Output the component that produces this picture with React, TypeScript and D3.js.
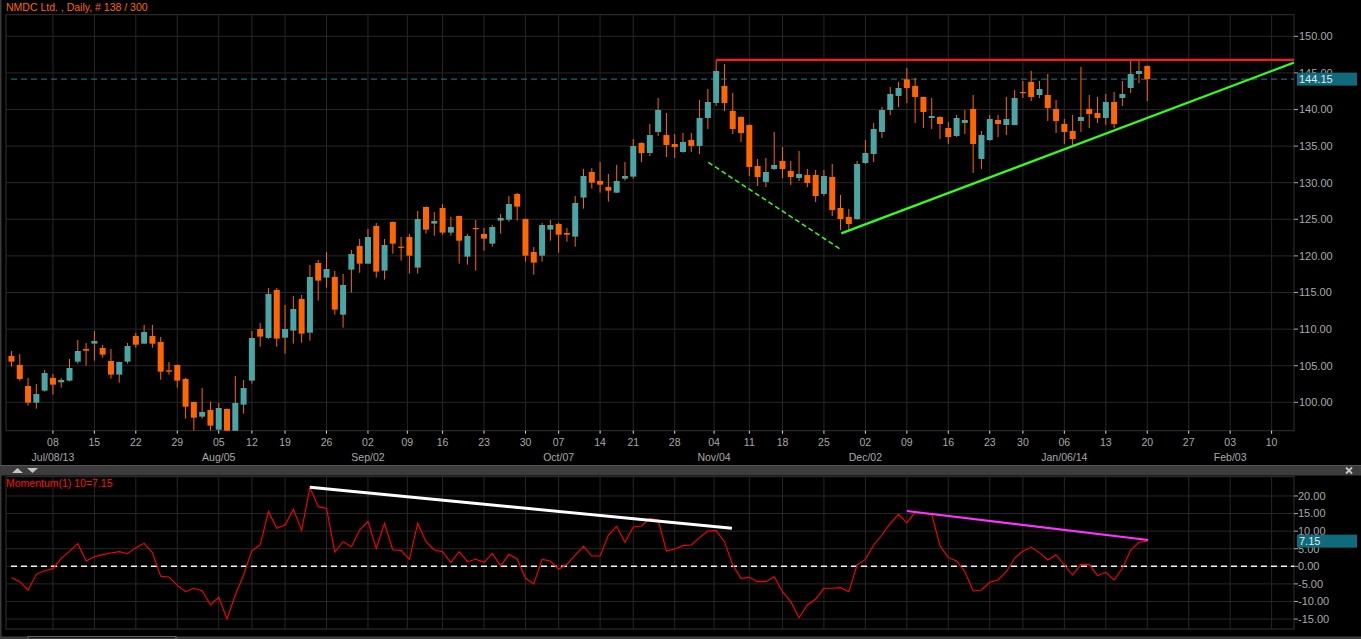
import React, { useEffect } from "react";
import * as d3 from "d3";

// ---------- DATA ----------
const firstDay = "2013-07-01";
const lastDay = "2014-01-20";
const futureEnd = "2014-02-14";
const holidays = ["2013-08-09", "2013-08-15", "2013-09-09", "2013-10-02", "2013-10-16", "2013-11-04", "2013-11-15", "2013-12-25"];

const opens = [106.33, 105.10, 102.23, 99.95, 101.59, 103.32, 102.73, 102.96, 105.55, 107.28, 108.01, 107.42, 105.64, 103.78, 105.55, 109.06, 108.01, 109.06, 108.24, 104.37, 105.10, 103.18, 100.04, 98.04, 98.95, 96.26, 99.09, 94.9, 99.68, 102.96, 110.01, 108.79, 115.34, 108.83, 109.79, 114.11, 109.51, 119.03, 117.03, 117.12, 111.97, 118.12, 121.36, 118.94, 124.09, 117.99, 124.63, 121.26, 122.58, 118.40, 126.68, 124.41, 126.55, 123.18, 125.45, 119.90, 123.81, 122.99, 121.67, 124.82, 124.95, 128.46, 125.04, 120.54, 120.03, 123.59, 124.36, 123.13, 122.63, 127.96, 131.46, 130.24, 129.42, 128.64, 130.55, 130.83, 135.42, 134.05, 136.92, 136.51, 135.28, 134.19, 135.83, 135.02, 138.84, 140.89, 143.21, 139.80, 138.98, 137.88, 132.28, 130.10, 131.87, 132.97, 131.60, 130.64, 131.05, 131.05, 128.46, 130.78, 126.55, 125.32, 125.04, 132.69, 133.92, 136.93, 139.93, 141.85, 144.12, 143.21, 141.71, 138.84, 138.98, 137.47, 136.38, 138.16, 140.07, 133.24, 135.83, 138.57, 137.88, 137.88, 142.39, 143.76, 141.98, 141.98, 140.07, 138.02, 137.06, 138.43, 140.07, 139.52, 138.84, 141.03, 141.57, 142.94, 144.85, 145.95];
const highs = [107.01, 106.60, 103.32, 102.50, 104.41, 103.87, 103.32, 105.92, 108.51, 108.10, 109.74, 107.83, 107.28, 105.55, 108.10, 109.47, 110.56, 110.56, 108.92, 105.51, 105.15, 103.32, 100.10, 101.95, 100.09, 99.91, 99.15, 103.59, 103.05, 109.74, 110.83, 115.62, 115.62, 113.29, 114.52, 114.66, 118.76, 119.44, 120.53, 117.94, 117.53, 120.81, 122.31, 123.68, 124.50, 122.31, 124.70, 122.58, 122.99, 126.14, 126.75, 126.00, 127.09, 125.32, 125.50, 122.99, 124.91, 123.81, 124.22, 125.73, 128.19, 128.60, 125.10, 121.22, 124.50, 124.91, 124.50, 123.81, 128.19, 131.87, 131.98, 132.83, 131.19, 132.42, 132.83, 135.97, 135.50, 138.01, 141.57, 139.52, 136.65, 136.79, 136.79, 141.30, 142.80, 146.75, 146.22, 142.26, 139.05, 137.95, 133.24, 133.38, 136.93, 134.88, 132.97, 134.33, 131.87, 131.74, 131.74, 132.56, 128.32, 126.41, 132.97, 135.83, 138.16, 140.34, 143.08, 143.76, 145.67, 144.30, 141.75, 141.57, 139.05, 138.29, 139.25, 139.93, 141.98, 137.06, 139.25, 139.25, 141.71, 142.67, 143.90, 145.26, 143.90, 144.85, 141.30, 138.70, 139.25, 145.81, 141.98, 141.71, 142.12, 142.39, 143.90, 146.63, 146.63, 146.00];
const lows = [104.87, 102.96, 99.54, 99.13, 101.45, 101.04, 102.00, 102.85, 105.28, 105.01, 105.69, 106.10, 103.23, 102.68, 105.28, 107.46, 107.95, 107.46, 103.09, 103.78, 102.00, 97.77, 96.13, 97.77, 96.13, 96.10, 94.2, 94.5, 98.45, 102.55, 107.60, 108.65, 107.60, 106.64, 108.01, 108.15, 108.42, 113.89, 115.66, 111.97, 110.20, 114.98, 117.71, 118.90, 117.03, 116.76, 120.31, 119.35, 117.58, 117.58, 123.04, 122.77, 122.90, 122.77, 118.94, 118.81, 117.99, 120.72, 121.26, 123.04, 124.68, 124.82, 119.21, 117.44, 119.21, 122.08, 120.44, 121.95, 121.26, 126.46, 129.19, 128.64, 127.41, 128.60, 130.28, 130.55, 132.82, 133.64, 136.38, 133.51, 133.37, 134.10, 134.20, 133.92, 137.34, 140.48, 139.80, 136.65, 135.56, 130.92, 129.55, 129.41, 131.74, 130.64, 129.69, 130.23, 129.41, 127.36, 128.18, 125.45, 123.54, 123.54, 124.95, 132.56, 132.83, 136.11, 139.25, 140.34, 140.89, 138.16, 137.47, 137.34, 135.97, 135.29, 136.24, 136.65, 131.33, 131.87, 135.70, 136.24, 136.52, 137.85, 141.57, 141.16, 141.57, 138.43, 136.79, 135.29, 135.02, 136.93, 137.47, 138.16, 137.89, 137.47, 140.48, 142.26, 143.62, 141.16];
const closes = [105.55, 103.18, 99.95, 101.13, 104.00, 102.41, 103.05, 104.69, 107.01, 107.05, 108.38, 106.51, 103.78, 105.51, 107.69, 107.87, 109.60, 108.01, 104.19, 104.19, 102.96, 99.40, 97.90, 98.68, 96.81, 99.22, 94.6, 99.91, 101.95, 108.79, 108.97, 114.80, 108.70, 110.01, 112.75, 109.38, 117.12, 116.62, 118.21, 112.66, 116.03, 120.26, 118.94, 122.58, 117.85, 121.49, 121.67, 121.17, 120.03, 125.04, 123.59, 124.77, 123.18, 123.95, 122.08, 122.72, 123.72, 122.36, 123.95, 125.18, 127.09, 126.73, 120.03, 119.08, 124.22, 124.22, 122.90, 122.90, 127.23, 130.92, 130.01, 129.73, 128.91, 130.24, 130.92, 135.01, 134.05, 136.51, 139.93, 135.15, 134.87, 135.56, 135.02, 138.84, 141.03, 145.26, 140.89, 137.34, 136.79, 132.15, 130.78, 131.46, 132.42, 131.87, 130.78, 131.19, 129.96, 128.18, 130.92, 126.27, 125.04, 124.36, 132.56, 134.06, 137.34, 139.93, 142.12, 142.94, 142.94, 141.71, 139.66, 139.11, 138.02, 136.24, 138.84, 138.57, 135.29, 136.52, 138.70, 138.02, 138.70, 141.57, 142.30, 141.71, 142.80, 140.21, 138.43, 136.93, 135.97, 138.98, 139.39, 138.84, 141.03, 138.02, 142.12, 144.85, 145.26, 144.15];

const momentum = [-3.23, -4.37, -6.74, -2.28, -1.24, -0.67, 2.27, 4.26, 6.44, 1.51, 2.74, 3.31, 3.78, 4.16, 3.59, 5.30, 6.53, 3.88, -2.85, -3.04, -5.41, -7.21, -6.26, -6.93, -11.00, -8.82, -14.98, -8.16, -2.47, 4.45, 6.06, 15.54, 10.80, 11.75, 16.20, 10.23, 22.46, 16.96, 16.48, 4.07, 7.01, 5.58, 10.32, 12.79, 5.11, 12.22, 4.64, 4.54, 1.98, 12.22, 7.01, 4.64, 4.16, 1.03, 4.16, 1.32, 1.98, 1.13, 3.69, 0.09, 3.40, 2.08, -3.42, -5.03, 1.98, 1.51, -0.86, 0.56, 3.21, 5.68, 2.93, 2.93, 8.90, 11.37, 6.82, 11.18, 11.46, 13.64, 13.17, 4.35, 4.92, 5.87, 6.06, 8.14, 10.04, 10.13, 7.01, 0.37, -3.42, -3.14, -4.37, -4.37, -2.95, -7.21, -10.06, -14.61, -11.00, -9.39, -6.26, -6.26, -6.07, -7.21, 0.37, 1.98, 6.06, 8.90, 12.22, 14.78, 12.41, 15.35, 15.06, 14.78, 5.87, 2.46, 1.51, -1.53, -7.02, -6.74, -4.56, -3.89, -1.53, 2.27, 4.35, 5.39, 3.88, 1.79, 3.21, 0.37, -2.47, 0.56, 0.56, -2.66, -1.71, -3.89, -0.58, 4.64, 6.82, 7.15];

const priceTicks = [100, 105, 110, 115, 120, 125, 130, 135, 140, 145, 150];
const momTicks = [-15, -10, -5, 0, 5, 10, 15, 20];
const monthLabels: Record<string, string> = {
  "2013-07-08": "Jul/08/13", "2013-08-05": "Aug/05", "2013-09-02": "Sep/02", "2013-10-07": "Oct/07",
  "2013-11-04": "Nov/04", "2013-12-02": "Dec/02", "2014-01-06": "Jan/06/14", "2014-02-03": "Feb/03",
};
const firstTick = "2013-07-08";
const lastTick = "2014-02-10";

const lastPrice = 144.15;
const lastMomentum = 7.15;
const titleText = "NMDC Ltd. , Daily, # 138 / 300";
const momTitle = "Momentum(1) 10=7.15";

// trend lines: [index, value]
const redLine = [[85, 146.78], [154.7, 146.78]];
const greenSolid = [[100.1, 123.08], [154.7, 146.4]];
const greenDashed = [[84.05, 132.78], [99.9, 120.99]];
const whiteLine = [[36, 22.46], [86.9, 10.8]];
const magentaLine = [[108, 15.72], [137.1, 7.48]];

// ---------- helpers ----------
const DAY = 86400000;
const parse = (s: string) => new Date(s + "T00:00:00Z").getTime();
function weekdays(from: string, to: string, skip: string[]) {
  const out: number[] = [];
  for (let t = parse(from); t <= parse(to); t += DAY) {
    const wd = new Date(t).getUTCDay();
    if (wd === 0 || wd === 6) continue;
    if (skip.includes(new Date(t).toISOString().slice(0, 10))) continue;
    out.push(t);
  }
  return out;
}
const tradingDays = weekdays(firstDay, lastDay, holidays);
const allSlots = tradingDays.concat(weekdays("2014-01-21", futureEnd, []));

function timeToIndex(t: number) {
  for (let k = 0; k < allSlots.length - 1; k++) {
    if (allSlots[k] <= t && t < allSlots[k + 1]) return k + (t - allSlots[k]) / (allSlots[k + 1] - allSlots[k]);
  }
  return allSlots.length - 1;
}
const mondays: number[] = [];
for (let t = parse(firstTick); t <= parse(lastTick); t += 7 * DAY) mondays.push(t);

// ---------- layout ----------
const W = 1361, H = 639;
const L = 6, R = 1294;
const mainTop = 14.7, mainBot = 430.7;
const momTop = 476.7, momBot = 629;

const x = d3.scaleLinear().domain([-0.66, 154.7]).range([L, R]);
const y = d3.scaleLinear().domain([96.12, 152.95]).range([mainBot, mainTop]);
const ym = d3.scaleLinear().domain([-17.83, 25.48]).range([momBot, momTop]);

const ORANGE = "#ff6600";
const TEAL = "#4aa5a5";
const GRID = "#272727";
const AXIS = "#a9a9a9";
const FONT = "'Liberation Sans', Arial, sans-serif";

export default function App() {
  useEffect(() => {
    document.body.style.margin = "0";
    document.body.style.background = "#000";
  }, []);

  const tickPos = mondays.map((t) => ({
    t,
    xp: x(timeToIndex(t)),
    day: d3.utcFormat("%d")(new Date(t)),
    month: monthLabels[new Date(t).toISOString().slice(0, 10)],
  }));

  const momLine = d3
    .line<number>()
    .x((_, i) => x(i))
    .y((d) => ym(d));

  const bodyW = 6;

  return (
    <svg width={W} height={H} style={{ display: "block", background: "#000" }} fontFamily={FONT}>
      <defs>
        <clipPath id="mainClip">
          <rect x={L} y={mainTop} width={R - L} height={mainBot - mainTop} />
        </clipPath>
        <clipPath id="momClip">
          <rect x={L} y={momTop} width={R - L} height={momBot - momTop} />
        </clipPath>
      </defs>
      <rect x={0} y={0} width={W} height={H} fill="#000" />
      <rect x={0} y={0} width={1.5} height={H} fill="#3a3a3a" />

      {/* title */}
      <text x={6} y={11} fill={ORANGE} fontSize={10.5}>
        {titleText}
      </text>

      {/* main grid */}
      {priceTicks.map((p) => (
        <line key={"hg" + p} x1={L} x2={R} y1={y(p)} y2={y(p)} stroke={GRID} strokeWidth={1} />
      ))}
      {tickPos.map((d) => (
        <line key={"vg" + d.t} x1={d.xp} x2={d.xp} y1={mainTop} y2={mainBot} stroke={GRID} strokeWidth={1} />
      ))}
      <rect x={L} y={mainTop} width={R - L} height={mainBot - mainTop} fill="none" stroke="#333" strokeWidth={1} />

      {/* last price dashed */}
      <line x1={11} x2={R} y1={y(lastPrice)} y2={y(lastPrice)} stroke="#1f7f8f" strokeWidth={1} strokeDasharray="6,4" />

      {/* candles */}
      <g clipPath="url(#mainClip)">
        {closes.map((c, i) => {
          const o = opens[i];
          const up = c >= o;
          const top = y(Math.max(o, c));
          const bot = y(Math.min(o, c));
          return (
            <g key={"c" + i}>
              <line x1={x(i)} x2={x(i)} y1={y(highs[i])} y2={y(lows[i])} stroke={ORANGE} strokeWidth={1} />
              <rect
                x={x(i) - bodyW / 2}
                y={top}
                width={bodyW}
                height={Math.max(1.2, bot - top)}
                fill={up ? TEAL : ORANGE}
              />
            </g>
          );
        })}
        <line x1={x(redLine[0][0])} x2={x(redLine[1][0])} y1={y(redLine[0][1])} y2={y(redLine[1][1])} stroke="#ff1a1a" strokeWidth={2.2} />
        <line x1={x(greenSolid[0][0])} x2={x(greenSolid[1][0])} y1={y(greenSolid[0][1])} y2={y(greenSolid[1][1])} stroke="#33ff1a" strokeWidth={2.2} />
        <line x1={x(greenDashed[0][0])} x2={x(greenDashed[1][0])} y1={y(greenDashed[0][1])} y2={y(greenDashed[1][1])} stroke="#33ff1a" strokeWidth={1.5} strokeDasharray="5,3" />
      </g>

      {/* price axis */}
      {priceTicks.map((p) => (
        <g key={"pt" + p}>
          <line x1={R} x2={R + 4} y1={y(p)} y2={y(p)} stroke={AXIS} />
          <text x={R + 5} y={y(p)} dy="0.35em" fill={AXIS} fontSize={11}>
            {p.toFixed(2)}
          </text>
        </g>
      ))}
      <rect x={1297} y={y(lastPrice) - 6.5} width={60} height={13} fill="#0f6b7b" />
      <text x={1299} y={y(lastPrice)} dy="0.35em" fill="#e8e8e8" fontSize={11}>
        {lastPrice.toFixed(2)}
      </text>

      {/* x axis */}
      {tickPos.map((d) => (
        <g key={"xt" + d.t}>
          <line x1={d.xp} x2={d.xp} y1={mainBot} y2={mainBot + 3} stroke="#ddd" />
          <text x={d.xp} y={446} textAnchor="middle" fill={AXIS} fontSize={10.5}>
            {d.day}
          </text>
          {d.month && (
            <text x={d.xp} y={461} textAnchor="middle" fill={AXIS} fontSize={10.5}>
              {d.month}
            </text>
          )}
        </g>
      ))}

      {/* divider */}
      <rect x={0} y={465.5} width={W} height={10} fill="#3c3c3c" />
      <line x1={0} x2={W} y1={465.5} y2={465.5} stroke="#555" />
      <path d="M12,473 L17.5,468 L23,473 Z" fill="#c4c4c4" />
      <path d="M27,468 L38,468 L32.5,473 Z" fill="#c4c4c4" />
      <path d="M1346,467.5 L1352,473.5 M1352,467.5 L1346,473.5" stroke="#c4c4c4" strokeWidth={1.8} />

      {/* momentum grid */}
      {momTicks.map((m) => (
        <line key={"mg" + m} x1={L} x2={R} y1={ym(m)} y2={ym(m)} stroke={GRID} />
      ))}
      {tickPos.map((d) => (
        <line key={"mv" + d.t} x1={d.xp} x2={d.xp} y1={momTop} y2={momBot} stroke={GRID} />
      ))}
      <rect x={L} y={momTop} width={R - L} height={momBot - momTop} fill="none" stroke="#333" />

      <text x={6} y={487} fill="#ff1010" fontSize={10.5}>
        {momTitle}
      </text>

      <line x1={11} x2={R} y1={ym(0)} y2={ym(0)} stroke="#f0f0f0" strokeWidth={1.5} strokeDasharray="6,4" />

      <g clipPath="url(#momClip)">
        <path d={momLine(momentum) || ""} fill="none" stroke="#ff0000" strokeWidth={1.1} />
        <line x1={x(whiteLine[0][0])} x2={x(whiteLine[1][0])} y1={ym(whiteLine[0][1])} y2={ym(whiteLine[1][1])} stroke="#ffffff" strokeWidth={3} />
        <line x1={x(magentaLine[0][0])} x2={x(magentaLine[1][0])} y1={ym(magentaLine[0][1])} y2={ym(magentaLine[1][1])} stroke="#ff33ff" strokeWidth={2.2} />
      </g>

      {momTicks.map((m) => (
        <g key={"mt" + m}>
          <line x1={R} x2={R + 4} y1={ym(m)} y2={ym(m)} stroke={AXIS} />
          <text x={R + 4} y={ym(m)} dy="0.35em" fill={AXIS} fontSize={11}>
            {m.toFixed(2)}
          </text>
        </g>
      ))}
      <rect x={1297} y={ym(lastMomentum) - 6.5} width={60} height={13} fill="#0f6b7b" />
      <text x={1299} y={ym(lastMomentum)} dy="0.35em" fill="#e8e8e8" fontSize={11}>
        {lastMomentum.toFixed(2)}
      </text>

      {/* bottom scroll bar */}
      <rect x={0} y={636.5} width={W} height={2.5} fill="#3c3c3c" />
      <rect x={28} y={636.5} width={148} height={2.5} fill="#1a1a1a" stroke="#777" strokeWidth={0.8} />
    </svg>
  );
}
